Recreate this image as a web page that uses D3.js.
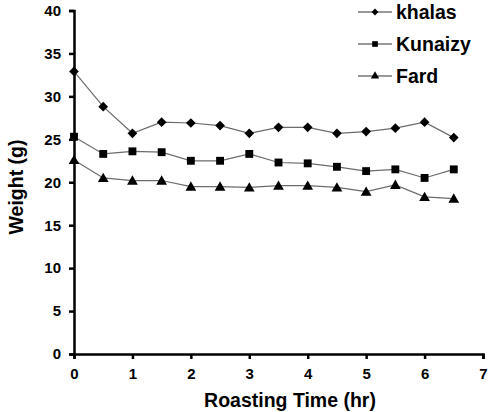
<!DOCTYPE html>
<html>
<head>
<meta charset="utf-8">
<script src="https://cdn.jsdelivr.net/npm/d3@7"></script>
<style>
  body { margin: 0; background: #fff; }
  text { font-family: Arial, "Liberation Sans", sans-serif; font-weight: bold; fill: #000; }
</style>
</head>
<body>
<div id="chart"></div>
<script>
// roasting time (hr)
const times = [0, 0.5, 1, 1.5, 2, 2.5, 3, 3.5, 4, 4.5, 5, 5.5, 6, 6.5];
// weight (g) per variety
const khalas = [32.9, 28.8, 25.7, 27.0, 26.9, 26.6, 25.7, 26.4, 26.4, 25.7, 25.9, 26.3, 27.0, 25.2];
const kunaizy = [25.3, 23.3, 23.6, 23.5, 22.5, 22.5, 23.3, 22.3, 22.2, 21.8, 21.3, 21.5, 20.5, 21.5];
const fard = [22.6, 20.5, 20.2, 20.2, 19.5, 19.5, 19.4, 19.6, 19.6, 19.4, 18.9, 19.7, 18.3, 18.1];
const seriesNames = ['khalas', 'Kunaizy', 'Fard'];
const xTicks = [0, 1, 2, 3, 4, 5, 6, 7];
const yTicks = [0, 5, 10, 15, 20, 25, 30, 35, 40];

const width = 490, height = 412;
const margin = { left: 74, right: 7, top: 10.5, bottom: 58 };

const svg = d3.select('#chart').append('svg')
    .attr('width', width)
    .attr('height', height);

const x = d3.scaleLinear().domain([0, 7]).range([margin.left, width - margin.right]);
const y = d3.scaleLinear().domain([0, 40]).range([height - margin.bottom, margin.top]);

// axes
const yAxis = svg.append('g')
    .attr('transform', `translate(${margin.left},0)`)
    .call(d3.axisLeft(y).tickValues(yTicks).tickFormat(d3.format('d')).tickSize(5).tickPadding(8));
const xAxis = svg.append('g')
    .attr('transform', `translate(0,${height - margin.bottom})`)
    .call(d3.axisBottom(x).tickValues(xTicks).tickFormat(d3.format('d')).tickSize(5).tickPadding(9));

[yAxis, xAxis].forEach(ax => {
    ax.select('.domain').attr('stroke', '#000').attr('stroke-width', 2.5);
    ax.selectAll('.tick line').attr('stroke', '#000').attr('stroke-width', 2.5);
    ax.selectAll('.tick text')
        .attr('font-family', 'Arial, "Liberation Sans", sans-serif')
        .attr('font-weight', 'bold')
        .attr('font-size', 15)
        .attr('fill', '#000');
});

// axis titles
svg.append('text')
    .attr('x', 290)
    .attr('y', 407)
    .attr('text-anchor', 'middle')
    .attr('font-size', 19.5)
    .text('Roasting Time (hr)');

svg.append('text')
    .attr('transform', 'translate(23,187) rotate(-90)')
    .attr('text-anchor', 'middle')
    .attr('font-size', 19.5)
    .text('Weight (g)');

// marker shapes
const shapes = [
    d3.symbol().type(d3.symbolDiamond2),
    d3.symbol().type(d3.symbolSquare),
    d3.symbol().type(d3.symbolTriangle)
];
const sizes = [60, 62, 50];
const legendSizes = [30, 32, 30];

const line = d3.line()
    .x((d, i) => x(times[i]))
    .y(d => y(d));

const allSeries = [khalas, kunaizy, fard];

allSeries.forEach((vals, s) => {
    const g = svg.append('g').attr('class', 'series');
    g.append('path')
        .datum(vals)
        .attr('fill', 'none')
        .attr('stroke', '#6b6b6b')
        .attr('stroke-width', 1.2)
        .attr('d', line);
    g.selectAll('path.pt')
        .data(vals)
        .enter().append('path')
        .attr('class', 'pt')
        .attr('transform', (d, i) => `translate(${x(times[i])},${y(d) + (s === 2 ? 1 : 0)})`)
        .attr('d', shapes[s].size(sizes[s])())
        .attr('fill', '#000');
});

// legend
const legend = svg.append('g')
    .selectAll('g')
    .data(seriesNames)
    .enter().append('g')
    .attr('transform', (d, i) => `translate(358,${12 + i * 32})`);

legend.append('line')
    .attr('x1', 0).attr('x2', 34)
    .attr('stroke', '#333')
    .attr('stroke-width', 1.2);
legend.append('path')
    .attr('transform', 'translate(17,0)')
    .attr('d', (d, i) => shapes[i].size(legendSizes[i])())
    .attr('fill', '#000');
legend.append('text')
    .attr('x', 38)
    .attr('dy', '0.36em')
    .attr('font-size', 19.5)
    .text(d => d);
</script>
</body>
</html>
